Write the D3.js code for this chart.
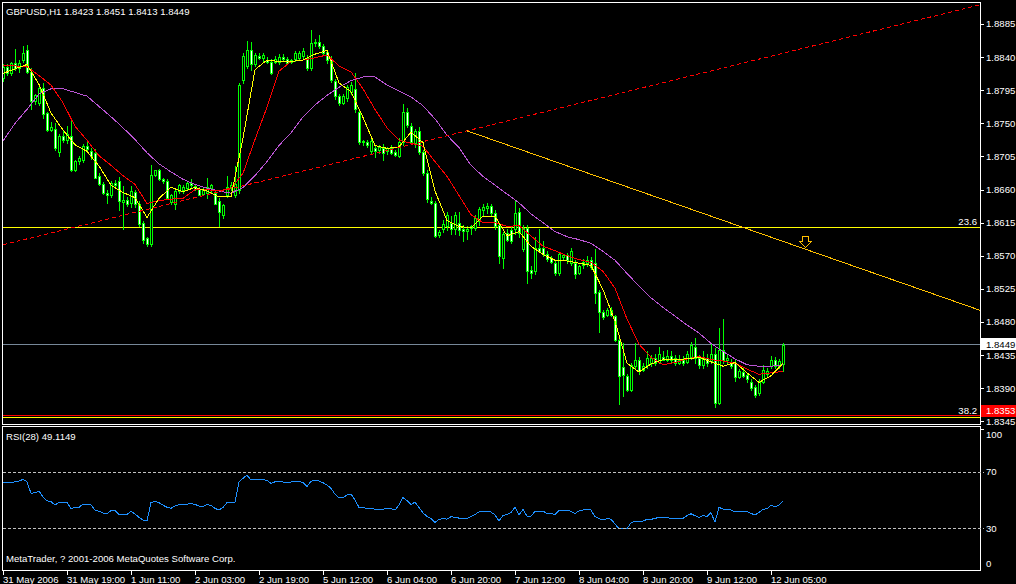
<!DOCTYPE html>
<html><head><meta charset="utf-8">
<script src="https://cdn.jsdelivr.net/npm/d3@7/dist/d3.min.js"></script>
<style>
html,body{margin:0;padding:0;background:#000;}
svg{display:block;}
text{font-family:"Liberation Sans",Arial,sans-serif;font-size:9.6px;fill:#fff;}
</style></head><body>
<svg width="1016" height="584"></svg>
<script>
const symbolTitle = "GBPUSD,H1  1.8423 1.8451 1.8413 1.8449";
const rsiTitle = "RSI(28) 49.1149";
const copyright = "MetaTrader, ? 2001-2006 MetaQuotes Software Corp.";

const opens = [1.8811,1.8827,1.8818,1.8832,1.8825,1.8836,1.8850,1.8820,1.8780,1.8778,1.8798,1.8764,1.8741,1.8743,1.8711,1.8733,1.8728,1.8733,1.8687,1.8699,
1.8700,1.8719,1.8712,1.8710,1.8679,1.8668,1.8656,1.8653,1.8669,1.8671,1.8643,1.8646,1.8642,1.8657,1.8641,1.8615,1.8594,1.8586,1.8680,1.8686,
1.8674,1.8672,1.8643,1.8640,1.8658,1.8660,1.8662,1.8669,1.8665,1.8661,1.8654,1.8656,1.8662,1.8656,1.8645,1.8625,1.8653,1.8664,1.8653,1.8660,
1.8809,1.8828,1.8850,1.8830,1.8842,1.8839,1.8836,1.8834,1.8834,1.8833,1.8840,1.8837,1.8834,1.8837,1.8839,1.8841,1.8839,1.8825,1.8859,1.8861,
1.8855,1.8847,1.8838,1.8807,1.8787,1.8778,1.8784,1.8793,1.8796,1.8766,1.8724,1.8725,1.8712,1.8716,1.8714,1.8717,1.8712,1.8716,1.8711,1.8706,
1.8724,1.8766,1.8746,1.8723,1.8739,1.8711,1.8683,1.8645,1.8642,1.8598,1.8606,1.8610,1.8615,1.8607,1.8615,1.8606,1.8604,1.8608,1.8608,1.8617,
1.8632,1.8635,1.8638,1.8628,1.8612,1.8567,1.8601,1.8605,1.8606,1.8630,1.8579,1.8608,1.8551,1.8549,1.8581,1.8580,1.8573,1.8567,1.8560,1.8546,
1.8569,1.8571,1.8560,1.8560,1.8547,1.8557,1.8560,1.8564,1.8560,1.8521,1.8493,1.8490,1.8496,1.8488,1.8456,1.8419,1.8407,1.8388,1.8420,1.8429,
1.8415,1.8422,1.8424,1.8431,1.8426,1.8433,1.8429,1.8434,1.8431,1.8425,1.8429,1.8426,1.8433,1.8446,1.8431,1.8422,1.8431,1.8427,1.8436,1.8370,
1.8442,1.8429,1.8426,1.8425,1.8406,1.8412,1.8408,1.8399,1.8392,1.8383,1.8399,1.8409,1.8420,1.8429,1.8420,1.8423];
const highs = [1.8830,1.8830,1.8834,1.8851,1.8836,1.8855,1.8857,1.8825,1.8790,1.8800,1.8805,1.8766,1.8752,1.8750,1.8735,1.8740,1.8746,1.8755,1.8700,1.8706,
1.8722,1.8725,1.8716,1.8715,1.8683,1.8670,1.8660,1.8672,1.8673,1.8677,1.8665,1.8650,1.8665,1.8660,1.8645,1.8617,1.8596,1.8694,1.8687,1.8688,
1.8676,1.8675,1.8654,1.8660,1.8668,1.8666,1.8671,1.8674,1.8668,1.8664,1.8663,1.8676,1.8668,1.8660,1.8648,1.8640,1.8678,1.8670,1.8692,1.8805,
1.8845,1.8862,1.8860,1.8846,1.8845,1.8846,1.8840,1.8837,1.8842,1.8844,1.8844,1.8840,1.8838,1.8848,1.8848,1.8852,1.8843,1.8877,1.8864,1.8870,
1.8858,1.8850,1.8842,1.8810,1.8790,1.8790,1.8802,1.8806,1.8818,1.8770,1.8728,1.8728,1.8732,1.8720,1.8720,1.8722,1.8718,1.8720,1.8714,1.8730,
1.8776,1.8771,1.8750,1.8742,1.8745,1.8714,1.8686,1.8650,1.8645,1.8605,1.8618,1.8630,1.8624,1.8630,1.8630,1.8612,1.8610,1.8612,1.8625,1.8637,
1.8640,1.8642,1.8641,1.8632,1.8614,1.8602,1.8606,1.8610,1.8646,1.8635,1.8612,1.8612,1.8556,1.8595,1.8606,1.8590,1.8576,1.8570,1.8563,1.8575,
1.8573,1.8574,1.8580,1.8564,1.8558,1.8565,1.8570,1.8568,1.8579,1.8524,1.8497,1.8499,1.8500,1.8490,1.8458,1.8452,1.8410,1.8424,1.8452,1.8432,
1.8424,1.8440,1.8435,1.8437,1.8446,1.8440,1.8442,1.8440,1.8435,1.8435,1.8434,1.8441,1.8453,1.8458,1.8435,1.8440,1.8436,1.8452,1.8445,1.8472,
1.8484,1.8436,1.8430,1.8430,1.8416,1.8418,1.8411,1.8402,1.8395,1.8403,1.8421,1.8418,1.8434,1.8433,1.8430,1.8451];
const lows = [1.8808,1.8816,1.8816,1.8822,1.8820,1.8834,1.8818,1.8769,1.8776,1.8775,1.8757,1.8739,1.8739,1.8714,1.8706,1.8725,1.8723,1.8685,1.8685,1.8695,
1.8698,1.8712,1.8702,1.8676,1.8666,1.8654,1.8642,1.8650,1.8663,1.8632,1.8606,1.8638,1.8637,1.8636,1.8610,1.8588,1.8583,1.8583,1.8678,1.8673,
1.8669,1.8647,1.8641,1.8633,1.8655,1.8656,1.8659,1.8663,1.8659,1.8652,1.8652,1.8649,1.8657,1.8640,1.8610,1.8621,1.8650,1.8660,1.8650,1.8655,
1.8805,1.8825,1.8822,1.8828,1.8837,1.8834,1.8832,1.8817,1.8832,1.8830,1.8835,1.8830,1.8832,1.8835,1.8836,1.8838,1.8822,1.8822,1.8855,1.8852,
1.8843,1.8832,1.8806,1.8783,1.8775,1.8776,1.8780,1.8790,1.8766,1.8722,1.8720,1.8718,1.8710,1.8704,1.8710,1.8700,1.8708,1.8708,1.8705,1.8704,
1.8720,1.8745,1.8722,1.8718,1.8708,1.8680,1.8643,1.8641,1.8595,1.8595,1.8603,1.8605,1.8600,1.8600,1.8598,1.8590,1.8593,1.8600,1.8605,1.8612,
1.8626,1.8628,1.8625,1.8607,1.8560,1.8554,1.8590,1.8588,1.8600,1.8595,1.8577,1.8533,1.8540,1.8545,1.8576,1.8570,1.8563,1.8560,1.8544,1.8544,
1.8564,1.8560,1.8558,1.8540,1.8545,1.8553,1.8556,1.8552,1.8506,1.8467,1.8484,1.8488,1.8488,1.8454,1.8368,1.8380,1.8386,1.8386,1.8418,1.8410,
1.8413,1.8418,1.8420,1.8422,1.8424,1.8428,1.8427,1.8425,1.8422,1.8423,1.8422,1.8424,1.8430,1.8425,1.8418,1.8418,1.8420,1.8424,1.8364,1.8368,
1.8425,1.8424,1.8418,1.8400,1.8404,1.8405,1.8399,1.8388,1.8378,1.8381,1.8397,1.8405,1.8418,1.8418,1.8418,1.8413];
const closes = [1.8827,1.8818,1.8832,1.8825,1.8832,1.8846,1.8820,1.8780,1.8788,1.8798,1.8763,1.8741,1.8745,1.8717,1.8733,1.8728,1.8735,1.8687,1.8699,1.8703,
1.8719,1.8715,1.8705,1.8676,1.8667,1.8655,1.8653,1.8669,1.8666,1.8644,1.8646,1.8640,1.8658,1.8640,1.8613,1.8591,1.8586,1.8680,1.8686,1.8674,
1.8671,1.8649,1.8652,1.8658,1.8666,1.8664,1.8669,1.8666,1.8661,1.8653,1.8660,1.8663,1.8666,1.8641,1.8630,1.8639,1.8664,1.8666,1.8667,1.8802,
1.8841,1.8850,1.8830,1.8843,1.8839,1.8843,1.8834,1.8819,1.8838,1.8840,1.8837,1.8832,1.8836,1.8845,1.8845,1.8848,1.8825,1.8859,1.8861,1.8855,
1.8845,1.8836,1.8809,1.8787,1.8777,1.8787,1.8800,1.8802,1.8769,1.8724,1.8726,1.8721,1.8726,1.8712,1.8718,1.8710,1.8716,1.8710,1.8707,1.8725,
1.8766,1.8748,1.8725,1.8739,1.8711,1.8683,1.8647,1.8642,1.8597,1.8603,1.8613,1.8626,1.8606,1.8626,1.8605,1.8604,1.8607,1.8611,1.8622,1.8633,
1.8636,1.8638,1.8628,1.8610,1.8570,1.8599,1.8592,1.8590,1.8628,1.8601,1.8608,1.8549,1.8547,1.8581,1.8577,1.8573,1.8565,1.8562,1.8546,1.8573,
1.8571,1.8564,1.8576,1.8545,1.8556,1.8562,1.8564,1.8555,1.8519,1.8493,1.8487,1.8496,1.8490,1.8456,1.8407,1.8408,1.8388,1.8422,1.8429,1.8413,
1.8420,1.8431,1.8431,1.8424,1.8436,1.8429,1.8434,1.8429,1.8425,1.8429,1.8425,1.8437,1.8449,1.8431,1.8422,1.8431,1.8425,1.8437,1.8370,1.8442,
1.8429,1.8431,1.8420,1.8406,1.8413,1.8407,1.8402,1.8390,1.8381,1.8399,1.8415,1.8413,1.8429,1.8420,1.8427,1.8449];

// moving averages, read every 3rd bar (bars 0,3,...,195)
const maStep = 3;
const maFast = [1.8818,1.8824,1.8830,1.8803,1.8764,1.8741,1.8721,1.8712,1.8692,1.8666,1.8656,1.8649,1.8622,1.8648,1.8663,1.8657,1.8663,1.8658,1.8650,1.8650,
1.8730,1.8823,1.8836,1.8834,1.8834,1.8836,1.8844,1.8849,1.8805,1.8793,1.8758,1.8720,1.8716,1.8718,1.8738,1.8724,1.8658,1.8618,1.8610,1.8608,
1.8624,1.8624,1.8597,1.8603,1.8583,1.8572,1.8564,1.8563,1.8560,1.8557,1.8524,1.8481,1.8424,1.8412,1.8423,1.8429,1.8429,1.8430,1.8432,1.8426,
1.8420,1.8425,1.8411,1.8398,1.8407,1.8424];
const maMid = [1.8828,1.8828,1.8827,1.8815,1.8802,1.8778,1.8746,1.8727,1.8706,1.8693,1.8679,1.8667,1.8641,1.8645,1.8647,1.8648,1.8660,1.8660,1.8658,1.8662,
1.8682,1.8728,1.8772,1.8821,1.8834,1.8836,1.8839,1.8843,1.8828,1.8820,1.8797,1.8769,1.8744,1.8727,1.8723,1.8719,1.8698,1.8678,1.8652,1.8626,
1.8615,1.8615,1.8610,1.8611,1.8597,1.8583,1.8577,1.8570,1.8565,1.8561,1.8549,1.8526,1.8484,1.8450,1.8432,1.8422,1.8425,1.8430,1.8433,1.8429,
1.8427,1.8424,1.8416,1.8409,1.8411,1.8413];
const maSlow = [1.8726,1.8750,1.8769,1.8790,1.8797,1.8797,1.8792,1.8787,1.8773,1.8759,1.8744,1.8728,1.8710,1.8695,1.8684,1.8674,1.8667,1.8662,1.8658,1.8655,
1.8663,1.8679,1.8698,1.8720,1.8737,1.8759,1.8775,1.8788,1.8799,1.8808,1.8813,1.8813,1.8802,1.8794,1.8786,1.8774,1.8756,1.8734,1.8717,1.8693,
1.8678,1.8666,1.8654,1.8642,1.8627,1.8615,1.8603,1.8596,1.8592,1.8587,1.8576,1.8564,1.8546,1.8529,1.8513,1.8500,1.8488,1.8476,1.8465,1.8451,
1.8440,1.8430,1.8422,1.8420,1.8420,1.8422];

const rsi = [62.2,62.2,62.4,62.9,63.4,64.6,62.9,54.7,55.1,56.3,52.3,49.5,48.8,46.4,48.3,48.1,48.3,43.8,44.8,44.8,
47.1,47.1,46.7,42.9,42.0,40.8,40.3,42.4,42.7,39.8,39.8,39.8,42.0,40.1,37.7,35.8,35.1,48.3,49.0,48.1,
46.4,44.8,44.1,45.7,46.7,46.9,47.1,47.4,46.9,45.7,45.5,46.7,46.2,44.1,42.9,44.8,48.1,48.1,48.5,62.9,
65.3,67.6,64.1,64.6,64.6,64.3,63.9,61.7,62.9,62.9,62.7,62.7,62.7,63.2,63.2,62.4,59.6,63.2,64.1,63.4,
62.2,60.6,58.2,54.2,51.4,51.8,53.5,54.2,50.0,44.8,44.5,44.1,44.1,43.4,43.4,43.4,44.1,43.8,42.9,46.4,
51.8,49.5,46.7,48.5,44.8,41.0,38.2,36.8,34.2,36.3,36.8,36.5,38.2,37.7,37.2,37.0,37.0,38.2,39.8,41.5,
42.0,42.2,41.5,39.4,35.3,38.9,39.8,41.2,44.8,39.4,43.4,38.6,38.6,42.0,42.2,42.2,40.5,40.5,39.6,42.7,
42.9,42.9,42.0,40.5,42.2,42.9,43.1,42.9,38.2,36.8,35.8,36.8,36.5,33.0,29.7,29.7,29.7,33.9,35.1,34.4,
35.1,36.3,36.3,37.0,37.7,37.5,37.5,37.0,37.0,37.0,37.0,38.9,40.3,38.9,37.7,39.1,38.2,41.0,34.4,44.8,
43.6,43.4,42.9,41.7,42.0,42.0,41.7,40.5,39.4,41.2,43.4,43.8,46.2,45.2,46.4,49.1];

const priceTicks = [1.8885,1.8840,1.8795,1.8750,1.8705,1.8660,1.8615,1.8570,1.8525,1.8480,1.8435,1.8390,1.8345];
const rsiTicks = [100,70,30,0];
const rsiLevels = [70,30];
const timeLabels = ["31 May 2006","31 May 19:00","1 Jun 11:00","2 Jun 03:00","2 Jun 19:00","5 Jun 12:00","6 Jun 04:00","6 Jun 20:00","7 Jun 12:00","8 Jun 04:00","8 Jun 20:00","9 Jun 12:00","12 Jun 05:00"];
const timeLabelBars = [0,16,32,48,64,80,96,112,128,144,160,176,192];

const fibLabels = ["23.6","38.2"];
const fibPrices = [1.8609,1.8351];
const alertPrice = 1.8353;
const bidPrice = 1.8449;
const redTrend = [[0,1.8585],[244.25,1.8911]];
const goldTrend = [[115.9,1.8740],[244.25,1.8496]];
const arrowAnchor = [200.6,1.8597];

// ---------- drawing ----------
const svg = d3.select("svg");
svg.append("rect").attr("width",1016).attr("height",584).attr("fill","#000");
const x = d3.scaleLinear().domain([0,195]).range([3,783]);
const y = d3.scaleLinear().domain([1.8345,1.8885]).range([421.4,24]);
const yR = d3.scaleLinear().domain([0,100]).range([570.7,429.3]);
const cr = v => Math.round(v)+0.5;

const defs = svg.append("defs");
defs.append("clipPath").attr("id","cm").append("rect").attr("x",3).attr("y",3).attr("width",977).attr("height",421);
defs.append("clipPath").attr("id","cr").append("rect").attr("x",3).attr("y",428).attr("width",977).attr("height",142);

const gm = svg.append("g").attr("clip-path","url(#cm)").attr("shape-rendering","crispEdges");

// horizontal lines
gm.append("line").attr("x1",3).attr("x2",980).attr("y1",cr(y(bidPrice)-0.5)).attr("y2",cr(y(bidPrice)-0.5)).attr("stroke","#778899");
fibPrices.forEach(p=>{
  gm.append("line").attr("x1",3).attr("x2",980).attr("y1",cr(y(p))).attr("y2",cr(y(p))).attr("stroke","#ffff00");
});
gm.append("line").attr("x1",3).attr("x2",980).attr("y1",cr(y(alertPrice)-0.5)).attr("y2",cr(y(alertPrice)-0.5)).attr("stroke","#ff0000");

// candles
const gc = gm.append("g");
opens.forEach((o,i)=>{
  const c = closes[i], h = highs[i], l = lows[i];
  const cx = Math.round(x(i));
  gc.append("line").attr("x1",cx+0.5).attr("x2",cx+0.5).attr("y1",Math.round(y(h))).attr("y2",Math.round(y(l))+1).attr("stroke","#00ff00");
  const top = Math.round(y(Math.max(o,c))), bot = Math.round(y(Math.min(o,c)));
  gc.append("rect").attr("x",cx-1).attr("y",top).attr("width",3).attr("height",Math.max(1,bot-top+1)).attr("fill","#00ff00");
  if (bot-top >= 2) {
    gc.append("rect").attr("x",cx).attr("y",top+1).attr("width",1).attr("height",bot-top-1).attr("fill", c>=o ? "#000000" : "#ffffff");
  }
});

// moving averages
const maLine = d3.line().x((d,k)=>x(k*maStep)).y(d=>y(d));
[[maSlow,"#ba55d3"],[maMid,"#ff0000"],[maFast,"#ffff00"]].forEach(([arr,col])=>{
  gm.append("path").attr("d",maLine(arr)).attr("fill","none").attr("stroke",col).attr("stroke-width",1);
});

// trend lines
const tl = d3.line().x(d=>x(d[0])).y(d=>y(d[1]));
gm.append("path").attr("d",tl(redTrend)).attr("stroke","#ff0000").attr("stroke-dasharray","4,3").attr("fill","none");
gm.append("path").attr("d",tl(goldTrend)).attr("stroke","#ffc000").attr("fill","none");

// arrow
const ax = Math.round(x(arrowAnchor[0]))+0.5, ay = Math.round(y(arrowAnchor[1]))+0.5;
gm.append("path").attr("d",`M${ax-3},${ay} H${ax+3} V${ay+5} H${ax+6} L${ax},${ay+11} L${ax-6},${ay+5} H${ax-3} Z`)
  .attr("fill","none").attr("stroke","#ffc000");

// fib labels
fibPrices.forEach((p,k)=>{
  svg.append("text").attr("x",977).attr("y",y(p)-2.5).attr("text-anchor","end").text(fibLabels[k]);
});

// frames
const fr = svg.append("g").attr("fill","none").attr("stroke","#fff").attr("shape-rendering","crispEdges");
fr.append("rect").attr("x",2.5).attr("y",2.5).attr("width",978).attr("height",422);
fr.append("rect").attr("x",2.5).attr("y",426.5).attr("width",978).attr("height",144);

// price axis
priceTicks.forEach(p=>{
  const yy = y(p);
  svg.append("line").attr("x1",981).attr("x2",984).attr("y1",cr(yy)).attr("y2",cr(yy)).attr("stroke","#fff").attr("shape-rendering","crispEdges");
  svg.append("text").attr("x",986).attr("y",yy+3.4).text(p.toFixed(4));
});
// bid & alert labels
const by = y(bidPrice)-0.5;
svg.append("rect").attr("x",981).attr("y",Math.round(by)-6).attr("width",35).attr("height",12).attr("fill","#fff");
svg.append("text").attr("x",986).attr("y",by+3.4).style("fill","#000").text(bidPrice.toFixed(4));
const ay2 = y(alertPrice)-4.5;
svg.append("rect").attr("x",981).attr("y",Math.round(ay2)-6).attr("width",35).attr("height",12).attr("fill","#ff0000");
svg.append("text").attr("x",986).attr("y",ay2+3.4).text(alertPrice.toFixed(4));

// header
svg.append("text").attr("x",6).attr("y",14.5).text(symbolTitle);

// RSI panel
const grr = svg.append("g").attr("clip-path","url(#cr)");
rsiLevels.forEach(v=>{
  svg.append("line").attr("x1",3).attr("x2",984).attr("y1",cr(yR(v))).attr("y2",cr(yR(v)))
    .attr("stroke","#c0c0c0").attr("stroke-dasharray","3,2").attr("shape-rendering","crispEdges");
});
grr.append("path").attr("d",d3.line().x((d,i)=>x(i)).y(d=>yR(d))(rsi)).attr("fill","none").attr("stroke","#1e90ff").attr("shape-rendering","crispEdges");
svg.append("text").attr("x",6).attr("y",440).text(rsiTitle);
svg.append("text").attr("x",6).attr("y",561.5).text(copyright);
rsiTicks.forEach(v=>{
  const yy = Math.min(Math.max(yR(v),435),564);
  svg.append("text").attr("x",986).attr("y",yy+3.4).text(v);
});
svg.append("line").attr("x1",981).attr("x2",984).attr("y1",429.5).attr("y2",429.5).attr("stroke","#fff");

// time axis
timeLabelBars.forEach((b,k)=>{
  const tx = Math.round(x(b))+0.5;
  svg.append("line").attr("x1",tx).attr("x2",tx).attr("y1",571).attr("y2",575).attr("stroke","#fff").attr("shape-rendering","crispEdges");
  svg.append("text").attr("x",tx-0.5).attr("y",582.5).text(timeLabels[k]);
});
</script></body></html>
